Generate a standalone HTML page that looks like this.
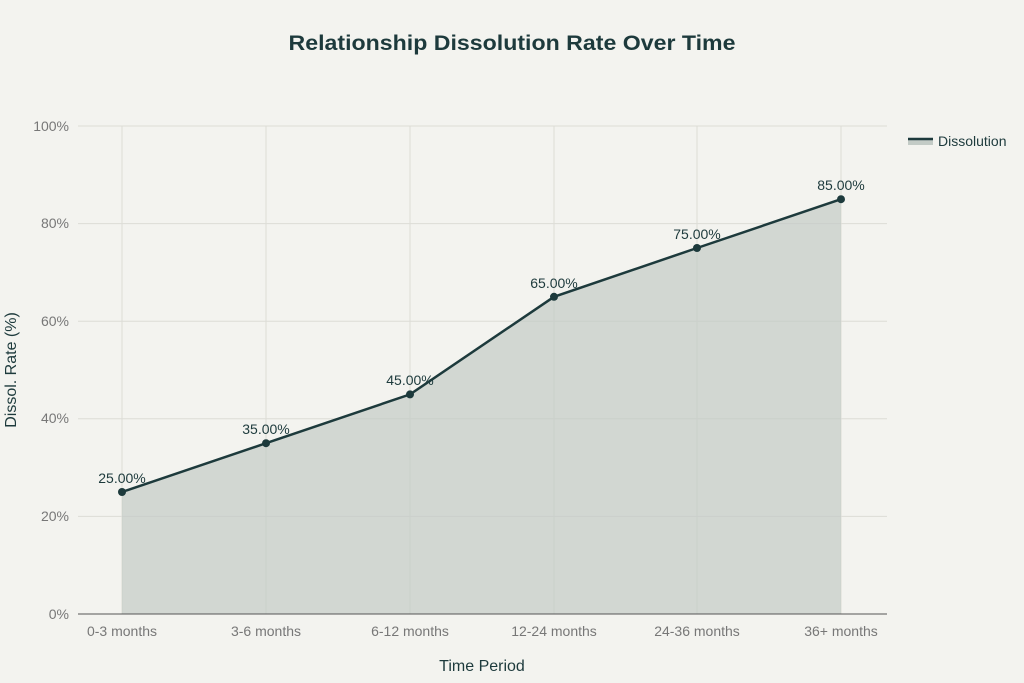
<!DOCTYPE html>
<html><head><meta charset="utf-8"><style>
html,body{margin:0;padding:0;background:#f3f3ef;}
svg{display:block;font-family:"Liberation Sans",sans-serif;}
</style></head><body>
<svg width="1024" height="683" viewBox="0 0 1024 683" xmlns="http://www.w3.org/2000/svg">
<rect width="1024" height="683" fill="#f3f3ef"/>
<text x="512" y="50" text-anchor="middle" font-size="21" font-weight="bold" fill="#1d3a3c" textLength="447" lengthAdjust="spacingAndGlyphs">Relationship Dissolution Rate Over Time</text>
<g stroke="#dcdcd6" stroke-width="1">
<line x1="78" y1="126" x2="887" y2="126"/>
<line x1="78" y1="223.6" x2="887" y2="223.6"/>
<line x1="78" y1="321.2" x2="887" y2="321.2"/>
<line x1="78" y1="418.8" x2="887" y2="418.8"/>
<line x1="78" y1="516.4" x2="887" y2="516.4"/>
<line x1="122" y1="126" x2="122" y2="614"/>
<line x1="266" y1="126" x2="266" y2="614"/>
<line x1="410" y1="126" x2="410" y2="614"/>
<line x1="554" y1="126" x2="554" y2="614"/>
<line x1="697" y1="126" x2="697" y2="614"/>
<line x1="841" y1="126" x2="841" y2="614"/>
</g>
<polygon points="122,492 266,443.2 410,394.4 554,296.8 697,248 841,199.2 841,614 122,614" fill="#c3cbc6" fill-opacity="0.7"/>
<line x1="78" y1="614" x2="887" y2="614" stroke="#555" stroke-width="1"/>
<polyline points="122,492 266,443.2 410,394.4 554,296.8 697,248 841,199.2" fill="none" stroke="#1d3a3c" stroke-width="2.5"/>
<g fill="#1d3a3c">
<circle cx="122" cy="492" r="4"/><circle cx="266" cy="443.2" r="4"/><circle cx="410" cy="394.4" r="4"/>
<circle cx="554" cy="296.8" r="4"/><circle cx="697" cy="248" r="4"/><circle cx="841" cy="199.2" r="4"/>
</g>
<g font-size="14" fill="#1d3a3c" text-anchor="middle">
<text x="122" y="483">25.00%</text><text x="266" y="434">35.00%</text><text x="410" y="385">45.00%</text>
<text x="554" y="288">65.00%</text><text x="697" y="239">75.00%</text><text x="841" y="190">85.00%</text>
</g>
<g font-size="14" fill="#777" text-anchor="end">
<text x="69" y="131">100%</text><text x="69" y="228">80%</text><text x="69" y="326">60%</text>
<text x="69" y="423">40%</text><text x="69" y="521">20%</text><text x="69" y="619">0%</text>
</g>
<g font-size="14" fill="#777" text-anchor="middle">
<text x="122" y="636">0-3 months</text><text x="266" y="636">3-6 months</text><text x="410" y="636">6-12 months</text>
<text x="554" y="636">12-24 months</text><text x="697" y="636">24-36 months</text><text x="841" y="636">36+ months</text>
</g>
<text x="482" y="671" text-anchor="middle" font-size="16" fill="#1d3a3c">Time Period</text>
<text transform="translate(16,370) rotate(-90)" text-anchor="middle" font-size="16" fill="#1d3a3c">Dissol. Rate (%)</text>
<rect x="908" y="140" width="25" height="5" fill="#c3cbc6"/>
<line x1="908" y1="139" x2="933" y2="139" stroke="#1d3a3c" stroke-width="2.5"/>
<text x="938" y="146" font-size="14" fill="#1d3a3c">Dissolution</text>
</svg>
</body></html>
